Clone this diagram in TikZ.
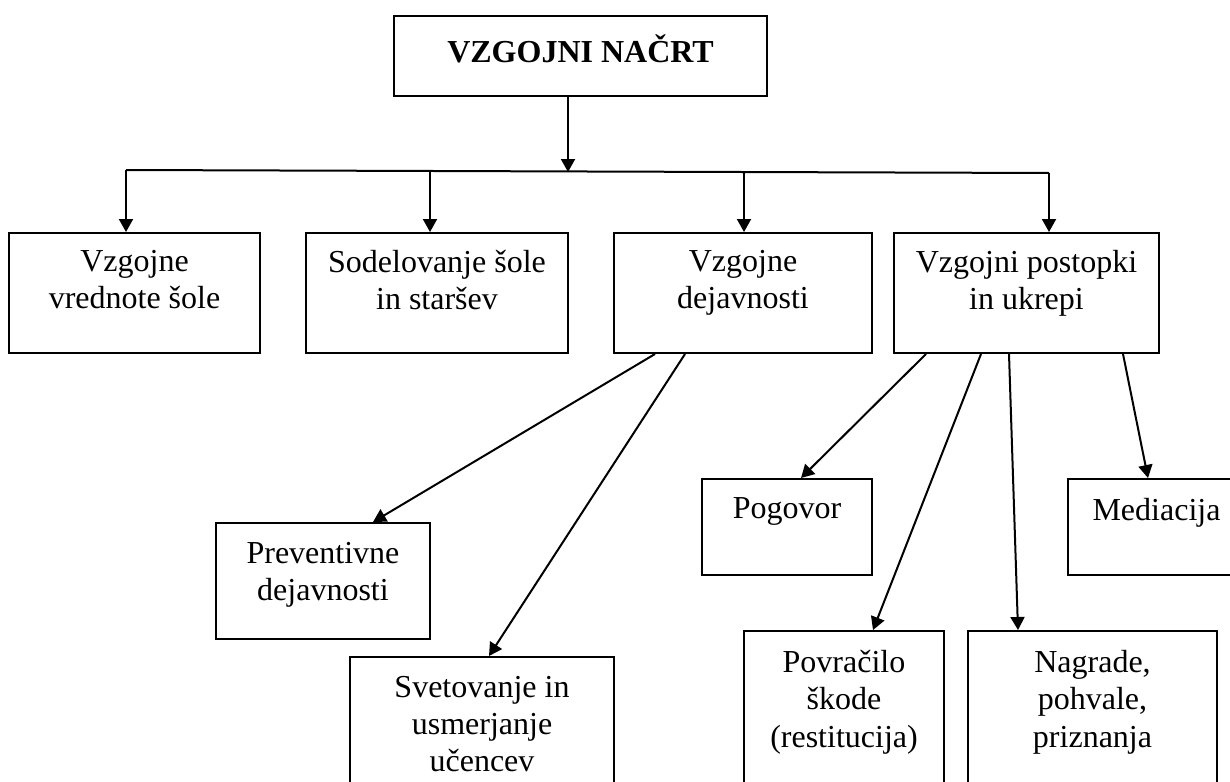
\documentclass[tikz,border=0pt]{standalone}
\usepackage{fontspec}
\setmainfont{Liberation Serif}
\usetikzlibrary{positioning,calc,arrows.meta}

\begin{document}
\begin{tikzpicture}[x=0.5pt, y=-0.5pt, line width=1pt,
  box/.style={draw, inner sep=0pt},
  txt/.style={align=center, inner sep=0pt, font=\fontsize{16}{18.7}\selectfont},
  title/.style={txt, font=\fontsize{16}{18.7}\selectfont\bfseries},
  arr/.style={-{Triangle[length=6.5pt,width=7pt]}}]
 		\useasboundingbox (0,0) rectangle (1230,781);
 		\clip (0,0) rectangle (1230,781);
 		%top box
 		\node[box, minimum width=186.5pt, minimum height=40pt] (nacrt) at (580.5,56) {};
 		\node[title, below=9.5pt of nacrt.north] (nacrt t) {VZGOJNI NAČRT};
 		%first row
 		\node[box, minimum width=125.5pt, minimum height=60pt] (vrednote) at (134.5,293) {};
 		\node[box, minimum width=131pt, minimum height=60pt] (sodelovanje) at (437,293) {};
 		\node[box, minimum width=129pt, minimum height=60pt] (dejavnosti) at (743,293) {};
 		\node[box, minimum width=132.5pt, minimum height=60pt] (postopki) at (1026.5,293) {};
 		\node[txt, below=8.5pt of vrednote.north] (vrednote t) {Vzgojne\\vrednote šole};
 		\node[txt, below=8.5pt of sodelovanje.north] (sodelovanje t) {Sodelovanje šole\\in staršev};
 		\node[txt, below=8.5pt of dejavnosti.north] (dejavnosti t) {Vzgojne\\dejavnosti};
 		\node[txt, below=8.5pt of postopki.north] (postopki t) {Vzgojni postopki\\in ukrepi};
 		%second row
 		\node[box, minimum width=107pt, minimum height=58pt] (preventiva) at (323,581) {};
 		\node[box, minimum width=132pt, minimum height=81.5pt] (svetovanje) at (482,738.5) {};
 		\node[box, minimum width=85pt, minimum height=48pt] (pogovor) at (787,527) {};
 		\node[box, minimum width=88.5pt, minimum height=48pt] (mediacija) at (1156.5,527) {};
 		\node[box, minimum width=100pt, minimum height=94.5pt] (povracilo) at (844,725.5) {};
 		\node[box, minimum width=124.5pt, minimum height=94.5pt] (nagrade) at (1092.5,725.5) {};
 		\node[txt, below=9.5pt of preventiva.north] (preventiva t) {Preventivne\\dejavnosti};
 		\node[txt, below=9.5pt of svetovanje.north] (svetovanje t) {Svetovanje in\\usmerjanje\\učencev};
 		\node[txt, below=9.5pt of pogovor.north] (pogovor t) {Pogovor};
 		\node[txt, below=9.5pt of mediacija.north] (mediacija t) {Mediacija};
 		\node[txt, below=9.5pt of povracilo.north] (povracilo t) {Povračilo\\škode\\(restitucija)};
 		\node[txt, below=9.5pt of nagrade.north] (nagrade t) {Nagrade,\\pohvale,\\priznanja};
 		%bar
 		\coordinate (hub) at (568,172);
 		\coordinate (bar l) at (126,170);
 		\coordinate (bar r) at (1049,173);
 		\coordinate (drop b) at (430,171);
 		\coordinate (drop c) at (744,172);
 		\draw[arr] (nacrt.south -| hub) -- (hub);
 		\draw (bar l) -- (bar r);
 		\draw[arr] (bar l) -- (bar l |- vrednote.north);
 		\draw[arr] (drop b) -- (drop b |- sodelovanje.north);
 		\draw[arr] (drop c) -- (drop c |- dejavnosti.north);
 		\draw[arr] (bar r) -- (bar r |- postopki.north);
 		%branches
 		\draw[arr] ($(dejavnosti.south west)+(42,0)$) -- ($(preventiva.north)+(50,0)$);
 		\draw[arr] ($(dejavnosti.south west)+(72,0)$) -- ($(svetovanje.north)+(7,0)$);
 		\draw[arr] ($(postopki.south west)+(33,0)$) -- ($(pogovor.north)+(14,0)$);
 		\draw[arr] ($(postopki.south west)+(88,0)$) -- ($(povracilo.north)+(29,0)$);
 		\draw[arr] ($(postopki.south west)+(116,0)$) -- ($(nagrade.north)+(-74.5,0)$);
 		\draw[arr] ($(postopki.south west)+(230,0)$) -- ($(mediacija.north)+(-8.5,0)$);
\end{tikzpicture}
\end{document}
